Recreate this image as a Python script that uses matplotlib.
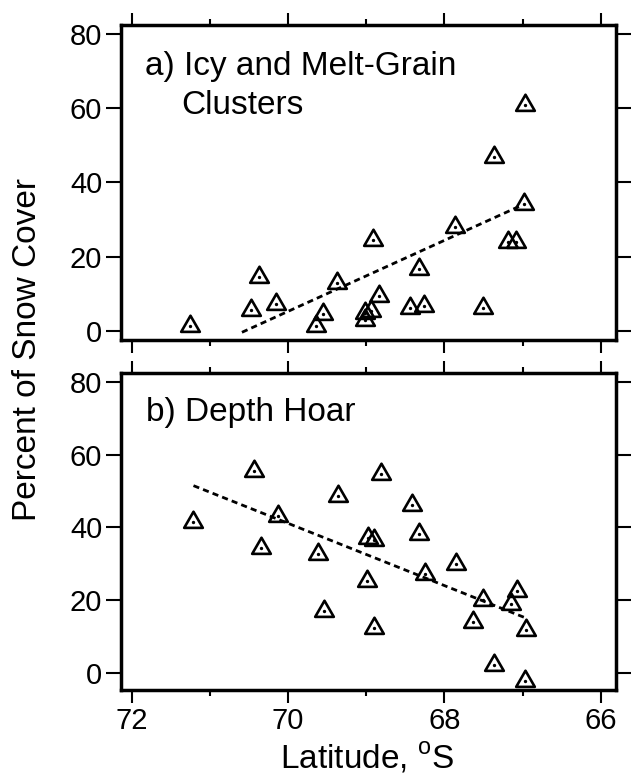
import matplotlib
matplotlib.use('Agg')
import matplotlib.pyplot as plt
from matplotlib.path import Path
from matplotlib.ticker import MultipleLocator

plt.rcParams['font.family'] = ['Liberation Sans', 'DejaVu Sans']
plt.rcParams['mathtext.fontset'] = 'custom'
plt.rcParams['mathtext.rm'] = 'Liberation Sans'

#================================
# a) Icy and melt-grain clusters (latitude in deg S, percent of snow cover)
lat_a = [71.25, 70.37, 70.47, 70.15, 69.38, 69.55, 69.64, 68.91, 68.84,
         69.01, 68.94, 69.01, 68.33, 68.44, 68.26, 67.87, 67.51, 67.37,
         66.97, 66.98, 67.19, 67.08]
pct_a = [1.2, 14.4, 5.5, 7.1, 13.0, 4.4, 1.2, 24.4, 9.4,
         4.8, 5.3, 3.0, 16.7, 6.2, 6.7, 27.9, 6.2, 46.7,
         60.9, 34.0, 24.0, 24.0]
fit_lat_a = [70.59, 67.02]
fit_pct_a = [-0.4, 33.7]

# b) Depth hoar
lat_b = [71.22, 70.43, 70.13, 70.35, 69.62, 69.54, 69.36, 68.99, 68.98,
         68.90, 68.90, 68.81, 68.41, 68.32, 68.25, 67.85, 67.64, 67.50,
         67.37, 67.15, 67.07, 66.96, 66.97]
pct_b = [41.6, 55.4, 43.2, 34.3, 32.6, 17.0, 48.6, 25.3, 37.2,
         36.5, 12.3, 54.7, 46.1, 38.1, 27.3, 29.9, 14.0, 20.1,
         2.3, 18.9, 22.5, 11.7, -2.2]
fit_lat_b = [71.21, 66.97]
fit_pct_b = [51.5, 15.2]

xticks = [72, 70, 68, 66]
yticks = [0, 20, 40, 60, 80]

#================================
# open equilateral triangle, centred on its centroid
tri = Path([(-1, -0.5774), (1, -0.5774), (0, 1.1547), (0, 0)],
           [Path.MOVETO, Path.LINETO, Path.LINETO, Path.CLOSEPOLY])

fig = plt.figure(figsize=(6.32, 7.77), dpi=100)
ax_a = fig.add_axes([0.1915, 0.5618, 0.7825, 0.406])
ax_b = fig.add_axes([0.1915, 0.112, 0.7825, 0.408])


def style(ax, ylim):
    ax.set_xlim(72.137, 65.81)
    ax.set_ylim(*ylim)
    ax.set_xticks(xticks)
    ax.xaxis.set_minor_locator(MultipleLocator(1))
    ax.set_yticks(yticks)
    for s in ax.spines.values():
        s.set_linewidth(2.5)
    ax.tick_params(which='both', direction='out', top=True, right=True,
                   labelsize=21, width=1.5, color='black')
    ax.tick_params(axis='x', which='major', length=9, pad=3)
    ax.tick_params(axis='x', which='minor', length=4.5)
    ax.tick_params(axis='y', which='major', length=10.5, pad=3)


def draw(ax, lat, pct, flat, fpct):
    ax.plot(flat, fpct, color='black', lw=2, linestyle=(0, (2.2, 1.5)))
    ax.plot(lat, pct, linestyle='none', marker=tri, ms=15.5,
            mfc='none', mec='black', mew=1.9)
    ax.plot(lat, pct, linestyle='none', marker='o', ms=1.4, color='black')


draw(ax_a, lat_a, pct_a, fit_lat_a, fit_pct_a)
style(ax_a, (-2.6, 82.3))
ax_a.tick_params(labelbottom=False)
ax_a.text(0.048, 0.841, 'a) Icy and Melt-Grain', transform=ax_a.transAxes,
          fontsize=24, va='baseline')
ax_a.text(0.121, 0.717, 'Clusters', transform=ax_a.transAxes,
          fontsize=24, va='baseline')

draw(ax_b, lat_b, pct_b, fit_lat_b, fit_pct_b)
style(ax_b, (-4.7, 82.5))
ax_b.text(0.05, 0.849, 'b) Depth Hoar', transform=ax_b.transAxes,
          fontsize=24, va='baseline')

# axis titles
fig.text(0.5815, 0.0115, r'Latitude, $^{\rm o}$S', fontsize=24,
         ha='center', va='baseline')
fig.text(0.0443, 0.5508, 'Percent of Snow Cover', fontsize=24,
         rotation=90, ha='center', va='center')

fig.savefig('out.png', dpi=100)
